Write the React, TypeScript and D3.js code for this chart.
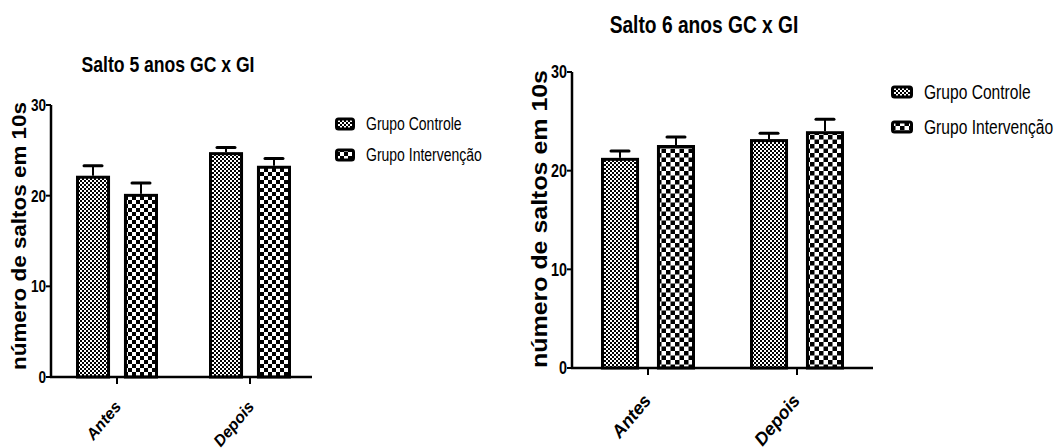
import React from "react";
import * as d3 from "d3";

// data
const categories = ["Antes", "Depois"];
const groups = ["Grupo Controle", "Grupo Intervenção"];
const yTicks = [0, 10, 20, 30];

const salto5Mean = [
  [22.2, 20.2], // Antes: GC, GI
  [24.8, 23.3], // Depois
];
const salto5Err = [
  [1.1, 1.2],
  [0.5, 0.8],
];

const salto6Mean = [
  [21.3, 22.6],
  [23.2, 24.0],
];
const salto6Err = [
  [0.7, 0.8],
  [0.6, 1.2],
];

const sans = "'Liberation Sans', Arial, sans-serif";
const SQUEEZE = 0.8; // no narrow font installed, so squeeze Liberation Sans

type Layout = {
  id: string;
  title: string;
  titleX: number;
  titleY: number;
  titleSize: number;
  axisX: number;
  axisEnd: number;
  y0: number;
  y30: number;
  catX: [number, number];
  half: number;
  inner: number;
  tickSize: number;
  catSize: number;
  catDx: number;
  catDy: number;
  labelX: number;
  labelY: number;
  labelSize: number;
  labelSpan: number;
  legendX: number;
  legendY: number;
  legendGap: number;
  legendSize: number;
  swW: number;
  swH: number;
  bigCell: number;
  means: number[][];
  errs: number[][];
};

function Narrow({
  x,
  y,
  size,
  anchor = "start",
  bold = false,
  dy,
  children,
}: {
  x: number;
  y: number;
  size: number;
  anchor?: string;
  bold?: boolean;
  dy?: string;
  children: React.ReactNode;
}) {
  return (
    <text
      transform={`translate(${x},${y}) scale(${SQUEEZE},1)`}
      textAnchor={anchor}
      dy={dy}
      fontFamily={sans}
      fontWeight={bold ? "bold" : "normal"}
      fontSize={size}
    >
      {children}
    </text>
  );
}

function BarChart({ L }: { L: Layout }) {
  const y = d3.scaleLinear().domain([0, 30]).range([L.y0, L.y30]);
  const x = d3.scalePoint<string>().domain(categories).range(L.catX);
  const g = d3
    .scaleBand<string>()
    .domain(groups)
    .range([-L.half, L.half])
    .paddingInner(L.inner);
  const bw = g.bandwidth();
  const fills = [`url(#fine-${L.id})`, `url(#big-${L.id})`];
  const c = L.bigCell;

  return (
    <g>
      <defs>
        <pattern id={`fine-${L.id}`} width={4} height={4} patternUnits="userSpaceOnUse">
          <rect width={4} height={4} fill="#fff" />
          <rect width={2} height={2} fill="#000" />
          <rect x={2} y={2} width={2} height={2} fill="#000" />
        </pattern>
        <pattern id={`big-${L.id}`} width={c * 2} height={c * 2} patternUnits="userSpaceOnUse">
          <rect width={c * 2} height={c * 2} fill="#fff" />
          <rect width={c} height={c} fill="#000" />
          <rect x={c} y={c} width={c} height={c} fill="#000" />
        </pattern>
      </defs>

      <Narrow x={L.titleX} y={L.titleY} size={L.titleSize} anchor="middle" bold>
        {L.title}
      </Narrow>

      {/* bars + error bars */}
      {categories.map((cat, i) =>
        groups.map((grp, j) => {
          const bx = (x(cat) as number) + (g(grp) as number);
          const top = y(L.means[i][j]);
          const et = y(L.means[i][j] + L.errs[i][j]);
          const cx = bx + bw / 2;
          return (
            <g key={cat + grp}>
              <line x1={cx} x2={cx} y1={top} y2={et} stroke="#000" strokeWidth={2} />
              <line x1={cx - 9} x2={cx + 9} y1={et} y2={et} stroke="#000" strokeWidth={3} strokeLinecap="round" />
              <rect
                x={bx + 1.5}
                y={top + 1.5}
                width={bw - 3}
                height={L.y0 - top - 1.5}
                fill={fills[j]}
                stroke="#000"
                strokeWidth={3}
              />
            </g>
          );
        })
      )}

      {/* y axis */}
      <line x1={L.axisX} x2={L.axisX} y1={y(30)} y2={y(0)} stroke="#000" strokeWidth={2.5} />
      {yTicks.map((t) => (
        <g key={t}>
          <line x1={L.axisX - 5} x2={L.axisX} y1={y(t)} y2={y(t)} stroke="#000" strokeWidth={2} />
          <Narrow x={L.axisX - 5} y={y(t)} dy="0.36em" size={L.tickSize} anchor="end" bold>
            {t}
          </Narrow>
        </g>
      ))}

      {/* x axis */}
      <line x1={L.axisX - 1} x2={L.axisEnd} y1={L.y0} y2={L.y0} stroke="#000" strokeWidth={2.5} />
      {categories.map((cat) => {
        const cx = x(cat) as number;
        return (
          <g key={cat}>
            <line x1={cx} x2={cx} y1={L.y0} y2={L.y0 + 7} stroke="#000" strokeWidth={2} />
            <text
              transform={`translate(${cx + L.catDx},${L.y0 + L.catDy}) rotate(-50)`}
              textAnchor="end"
              fontFamily={sans}
              fontWeight="bold"
              fontStyle="italic"
              fontSize={L.catSize}
            >
              {cat}
            </text>
          </g>
        );
      })}

      {/* y label */}
      <text
        transform={`translate(${L.labelX},${L.labelY}) rotate(-90)`}
        textAnchor="middle"
        fontFamily={sans}
        fontWeight="bold"
        fontSize={L.labelSize}
        textLength={L.labelSpan}
        lengthAdjust="spacingAndGlyphs"
      >
        número de saltos em 10s
      </text>

      {/* legend */}
      {groups.map((grp, j) => {
        const ly = L.legendY + j * L.legendGap;
        return (
          <g key={grp}>
            <rect
              x={L.legendX + 1.5}
              y={ly - L.swH / 2 + 1.5}
              width={L.swW - 3}
              height={L.swH - 3}
              rx={2}
              fill={fills[j]}
              stroke="#000"
              strokeWidth={3}
            />
            <Narrow x={L.legendX + L.swW + 11} y={ly} dy="0.36em" size={L.legendSize}>
              {grp}
            </Narrow>
          </g>
        );
      })}
    </g>
  );
}

const left: Layout = {
  id: "a",
  title: "Salto 5 anos GC x GI",
  titleX: 168,
  titleY: 72,
  titleSize: 22,
  axisX: 51,
  axisEnd: 312,
  y0: 377,
  y30: 105,
  catX: [117, 250],
  half: 41,
  inner: 0.29,
  tickSize: 17,
  catSize: 16,
  catDx: 5,
  catDy: 30,
  labelX: 26,
  labelY: 236,
  labelSize: 20,
  labelSpan: 268,
  legendX: 335,
  legendY: 124,
  legendGap: 31,
  legendSize: 17.5,
  swW: 20,
  swH: 13,
  bigCell: 4,
  means: salto5Mean,
  errs: salto5Err,
};

const right: Layout = {
  id: "b",
  title: "Salto 6 anos GC x GI",
  titleX: 704,
  titleY: 33,
  titleSize: 24,
  axisX: 572,
  axisEnd: 873,
  y0: 368,
  y30: 72,
  catX: [648, 797],
  half: 47,
  inner: 0.32,
  tickSize: 18,
  catSize: 18,
  catDx: 4,
  catDy: 33,
  labelX: 547,
  labelY: 219,
  labelSize: 22,
  labelSpan: 298,
  legendX: 891,
  legendY: 92,
  legendGap: 35,
  legendSize: 19.5,
  swW: 22,
  swH: 13,
  bigCell: 4.5,
  means: salto6Mean,
  errs: salto6Err,
};

export default function App() {
  return (
    <svg
      width={1062}
      height={448}
      style={{ position: "absolute", left: 0, top: 0, background: "#fff" }}
    >
      <rect width={1062} height={448} fill="#fff" />
      <BarChart L={left} />
      <BarChart L={right} />
    </svg>
  );
}
